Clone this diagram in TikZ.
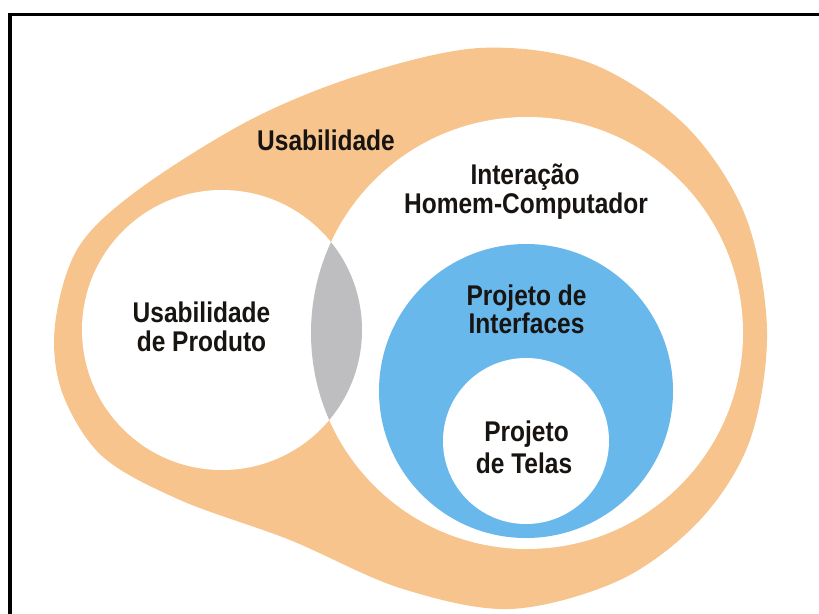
\documentclass[tikz,border=0pt]{standalone}
\usepackage{fontspec}
\newfontfamily\lblfont{Liberation Sans}[FakeStretch=0.86]
\definecolor{orangefill}{RGB}{246,196,140}
\definecolor{bluefill}{RGB}{104,184,236}
\definecolor{lensgray}{RGB}{190,190,193}
\definecolor{txt}{RGB}{24,20,18}
\tikzset{
  lbl/.style={anchor=base, inner sep=0pt, text=txt, font=\lblfont\bfseries\fontsize{28.5}{29}\selectfont},
  frameline/.style={line width=3.4pt, line join=miter}
}
\begin{document}
\begin{tikzpicture}[x=1pt,y=-1pt]
\useasboundingbox (0,0) rectangle (819,613);
\fill[white] (0,0) rectangle (819,613);
% frame (only top and left sides visible)
\draw[frameline] (10,615) -- (10,14.7) -- (821,14.7);
% outer Usabilidade blob
\fill[orangefill] plot[smooth cycle, tension=0.55] coordinates {
  (55,325) (78,248) (138,190) (250,120) (360,75) (480,48) (590,63)
  (685,125) (745,215) (767,330) (750,440) (700,520) (620,580) (510,609)
  (400,588) (290,540) (180,500) (102,456) (62,392)};
% HCI circle and product usability circle
\fill[white] (527,333) circle[radius=216];
\fill[white] (222,330) circle[radius=140];
% lens (intersection)
\begin{scope}
  \clip (222,330) circle[radius=140];
  \fill[lensgray] (527,333) circle[radius=216];
\end{scope}
% Projeto de Interfaces
\fill[bluefill] (526,391) circle[radius=147];
% Projeto de Telas
\fill[white] (526,441) circle[radius=83];
% labels
\node[lbl] (usab) at (326,150) {Usabilidade};
\node[lbl] (prodA) at (201.5,322.7) {Usabilidade};
\node[lbl] (prodB) at (201.5,351.7) {de Produto};
\node[lbl] (hciA) at (525,184.3) {Interação};
\node[lbl] (hciB) at (526,213) {Homem-Computador};
\node[lbl] (intA) at (526.5,305) {Projeto de};
\node[lbl] (intB) at (526.5,333.5) {Interfaces};
\node[lbl] (telA) at (526.5,441.5) {Projeto};
\node[lbl] (telB) at (524,473.5) {de Telas};
\end{tikzpicture}
\end{document}
